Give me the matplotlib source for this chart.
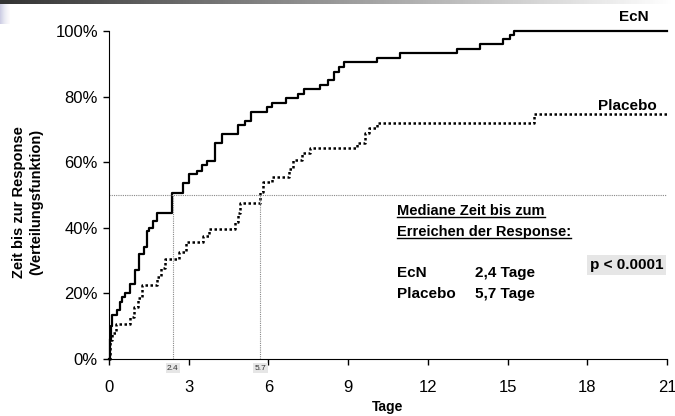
import matplotlib
matplotlib.use("Agg")
import matplotlib.pyplot as plt
import numpy as np
from matplotlib.lines import Line2D

plt.rcParams['font.family'] = ['Liberation Sans', 'DejaVu Sans']

# Kumulative Response (%) ueber die Zeit (Tage)
ecn_tage = [0, 0.03, 0.06, 0.1, 0.29, 0.4, 0.49, 0.6, 0.8, 0.98, 1.13, 1.3, 1.42, 1.52, 1.66,
            1.82, 2.36, 2.8, 3.0, 3.3, 3.5, 3.7, 4.0, 4.25, 4.85, 5.1, 5.35, 5.95, 6.15,
            6.65, 7.1, 7.35, 7.95, 8.25, 8.45, 8.65, 8.85, 10.07, 10.95, 13.08, 13.98,
            14.83, 15.1, 15.25, 21]
ecn_werte = [0, 6, 10, 13.4, 15, 17.5, 19, 20, 23, 27, 32, 34, 39, 40, 42,
             44.5, 50.7, 53.6, 56.4, 57.4, 59, 60.4, 65.8, 68.6, 71.3, 72.6, 75.4, 76.9, 78.1,
             79.5, 80.8, 82.3, 83.5, 85.2, 87.6, 89, 90.5, 91.9, 93.3, 94.5, 95.9,
             97.5, 98.7, 100, 100]

placebo_tage = [0, 0.03, 0.1, 0.25, 0.8, 0.95, 1.1, 1.25, 1.8, 1.95, 2.1, 2.65, 2.9, 3.55,
                3.75, 4.75, 4.85, 4.93, 5.68, 5.8, 6.15, 6.78, 6.93, 7.25, 7.55, 9.32, 9.63,
                9.8, 10.1, 16.0, 21]
placebo_werte = [0, 5.8, 8, 10.8, 12.9, 16, 18.5, 22.5, 25, 27.7, 30.5, 32.7, 35.8, 37.5,
                 39.6, 41.9, 44.5, 47.7, 51, 54, 55.6, 58, 60.7, 62.7, 64.2, 65.8, 68.8,
                 70.3, 72.1, 74.7, 74.7]

median_ecn = 2.4
median_placebo = 5.7

fig = plt.figure(figsize=(6.75, 4.16), dpi=100)
ax = fig.add_axes([109/675, 1-359/416, 558/675, 328/416])

ax.step(ecn_tage, ecn_werte, where='post', color='black', lw=1.6, clip_on=False)
ax.step(placebo_tage, placebo_werte, where='post', color='black', lw=1.8,
        linestyle=(0, (1, 1)), clip_on=False)

# Hilfslinien fuer den Median
ax.plot([0, 21], [50, 50], color='#888888', lw=0.8, linestyle=(0, (1, 1)))
for m in [median_ecn, median_placebo]:
    ax.plot([m, m], [0, 50], color='#888888', lw=0.8, linestyle=(0, (1, 1)))
    ax.text(m, -0.018, str(m), transform=ax.get_xaxis_transform(), ha='center', va='top',
            fontsize=6, color='#333333',
            bbox=dict(facecolor='#e6e6e6', edgecolor='none', pad=1))

ax.set_xlim(0, 21)
ax.set_ylim(0, 100)
ax.set_xticks(np.arange(0, 22, 3))
ax.set_yticks(np.arange(0, 101, 20))
ax.set_yticklabels([f'{v}%' for v in range(0, 101, 20)])
ax.tick_params(labelsize=12, length=4, width=1, direction='out', pad=4)
ax.tick_params(axis='x', pad=11)
for s in ['top', 'right']:
    ax.spines[s].set_visible(False)
ax.set_xlabel('Tage', fontsize=10, fontweight='bold', labelpad=4)
fig.text(27.5/675, 1-202/416, 'Zeit bis zur Response\n(Verteilungsfunktion)', rotation=90,
         ha='center', va='center', fontsize=10.5, fontweight='bold', linespacing=1.3)

ax.text(19.76, 104.3, 'EcN', ha='center', va='center', fontsize=11, fontweight='bold',
        clip_on=False)
ax.text(19.5, 77.1, 'Placebo', ha='center', va='center', fontsize=11, fontweight='bold')

t1 = ax.text(10.84, 45.1, 'Mediane Zeit bis zum', fontsize=10.5, fontweight='bold', va='center')
t2 = ax.text(10.84, 38.7, 'Erreichen der Response:', fontsize=10.5, fontweight='bold', va='center')
ax.text(10.84, 26.2, 'EcN', fontsize=11, fontweight='bold', va='center')
ax.text(13.77, 26.2, '2,4 Tage', fontsize=11, fontweight='bold', va='center')
ax.text(10.84, 19.8, 'Placebo', fontsize=11, fontweight='bold', va='center')
ax.text(13.77, 19.8, '5,7 Tage', fontsize=11, fontweight='bold', va='center')
ax.text(18.1, 28.7, 'p < 0.0001', fontsize=11, fontweight='bold', va='center',
        bbox=dict(facecolor='#e6e6e6', edgecolor='none', pad=2))

# Unterstreichung
fig.canvas.draw()
r = fig.canvas.get_renderer()
for t in [t1, t2]:
    bb = t.get_window_extent(r)
    y = (bb.y0 + 1) / fig.bbox.height
    fig.add_artist(Line2D([bb.x0 / fig.bbox.width, bb.x1 / fig.bbox.width], [y, y],
                          color='black', lw=1, transform=fig.transFigure))

# Folienkopf
kopf = fig.add_axes([0, 1-4/416, 1, 4/416])
kopf.imshow(np.linspace(0, 1, 256).reshape(1, -1), cmap='gray', vmin=-0.25, vmax=1.0,
            aspect='auto', extent=[0, 1, 0, 1])
kopf.axis('off')
ecke = fig.add_axes([0, 1-24/416, 10/675, 20/416])
ecke.imshow(np.linspace(0, 1, 64).reshape(1, -1), cmap='Purples_r', vmin=-1.2, vmax=1.0,
            aspect='auto', extent=[0, 1, 0, 1], alpha=0.6)
ecke.axis('off')

fig.savefig('out.png', dpi=100)
